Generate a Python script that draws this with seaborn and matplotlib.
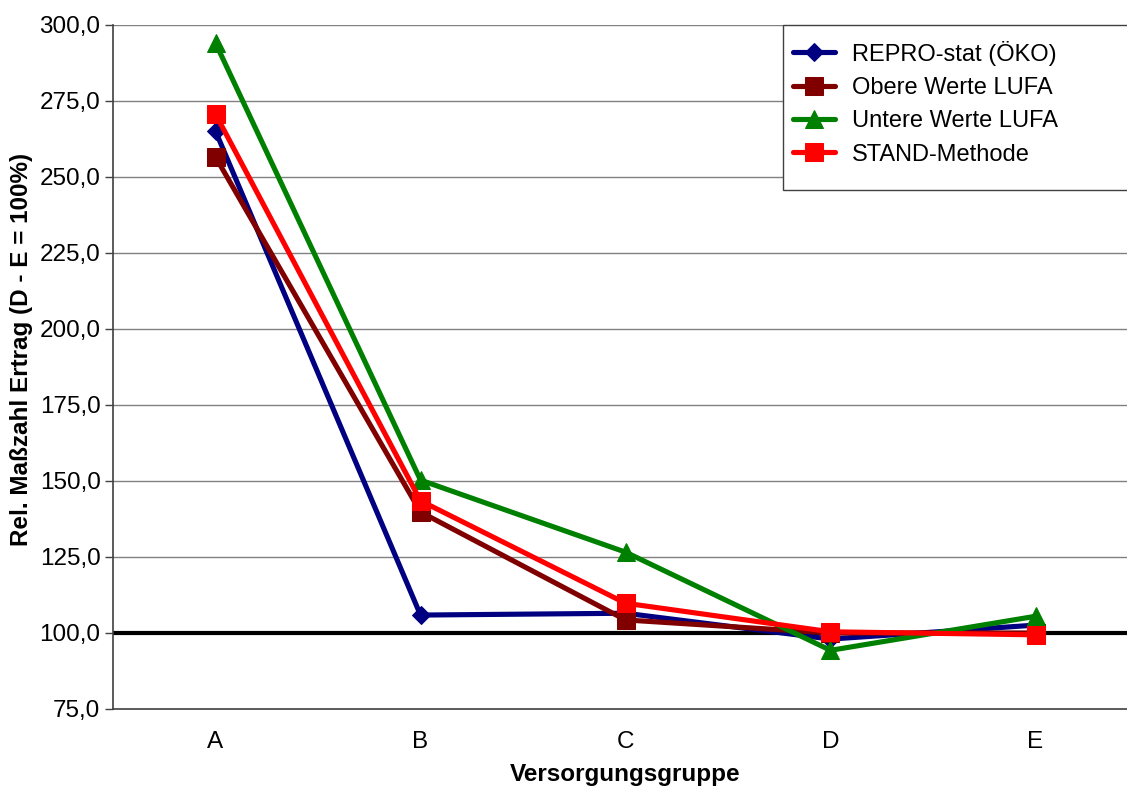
import numpy as np
import pandas as pd
import matplotlib.pyplot as plt
import seaborn as sns
from matplotlib.patches import Rectangle
from matplotlib.ticker import FixedLocator, FuncFormatter

groups = ["A", "B", "C", "D", "E"]
repro_stat = [265.1, 105.9, 106.5, 98.0, 102.6]
obere_lufa = [256.6, 139.8, 104.3, 100.0, 100.0]
untere_lufa = [294.1, 150.3, 126.6, 94.3, 105.5]
stand_methode = [270.7, 143.5, 109.8, 100.4, 99.4]

series_names = ["REPRO-stat (ÖKO)", "Obere Werte LUFA", "Untere Werte LUFA", "STAND-Methode"]
series_values = [repro_stat, obere_lufa, untere_lufa, stand_methode]

df = pd.concat(
    [pd.DataFrame({"Gruppe": groups, "Wert": vals, "Reihe": name})
     for name, vals in zip(series_names, series_values)],
    ignore_index=True,
)
df["x"] = df["Gruppe"].map({g: i for i, g in enumerate(groups)})

sns.set_theme(style="white")
plt.rcParams["font.family"] = ["Liberation Sans", "DejaVu Sans"]
plt.rcParams["text.color"] = "black"
plt.rcParams["axes.labelcolor"] = "black"

palette = {
    "REPRO-stat (ÖKO)": "#000080",
    "Obere Werte LUFA": "#800000",
    "Untere Werte LUFA": "#008000",
    "STAND-Methode": "#ff0000",
}
markers = {
    "REPRO-stat (ÖKO)": "D",
    "Obere Werte LUFA": "s",
    "Untere Werte LUFA": "^",
    "STAND-Methode": "s",
}
sizes = {
    "REPRO-stat (ÖKO)": 9,
    "Obere Werte LUFA": 12.5,
    "Untere Werte LUFA": 13,
    "STAND-Methode": 12.5,
}

fig = plt.figure(figsize=(11.27, 7.87), dpi=100)
ax = fig.add_axes([113 / 1127, 1 - 709 / 787, 1025 / 1127, 684 / 787])

# grid and 100 % reference line
for yv in np.arange(100, 301, 25):
    ax.axhline(yv, color="#808080", lw=1.0, zorder=0)
ax.axhline(100, color="black", lw=3.0, zorder=1)

for name in series_names:
    sub = df[df["Reihe"] == name]
    sns.lineplot(data=sub, x="x", y="Wert", ax=ax, color=palette[name], lw=3.7,
                 marker=markers[name], markersize=sizes[name],
                 markeredgecolor=palette[name], label=name, zorder=3)

ax.set_xlim(-0.5, 4.5)
ax.set_ylim(75, 300)
ax.yaxis.set_major_locator(FixedLocator(np.arange(75, 301, 25)))
ax.yaxis.set_major_formatter(FuncFormatter(lambda v, _: f"{v:.1f}".replace(".", ",")))
ax.set_xticks(range(len(groups)))
ax.set_xticklabels(groups)
ax.xaxis.set_minor_locator(FixedLocator(np.arange(-0.5, 4.6, 1.0)))
ax.tick_params(axis="x", which="major", length=0, labelsize=17.5, pad=16, labelcolor="black")
ax.tick_params(axis="x", which="minor", length=6, width=1, color="#404040", direction="out")
ax.tick_params(axis="y", length=6, width=1, color="#404040", direction="out",
               labelsize=17.5, pad=3, left=True, labelcolor="black")

for side in ["top", "right"]:
    ax.spines[side].set_visible(False)
ax.spines["left"].set_color("#404040")
ax.spines["left"].set_linewidth(1.2)
ax.spines["bottom"].set_color("#404040")
ax.spines["bottom"].set_linewidth(1.2)

ax.set_xlabel("Versorgungsgruppe", fontsize=17.5, fontweight="bold", labelpad=7)
ax.set_ylabel("Rel. Maßzahl Ertrag (D - E = 100%)", fontsize=17.5, fontweight="bold")
ax.yaxis.set_label_coords(-80 / 1025, 0.525)

# legend box runs past the right edge of the picture
ax.add_patch(Rectangle((783 / 1127, 1 - 190 / 787), 400 / 1127, 165 / 787,
                       transform=fig.transFigure, facecolor="white", clip_on=False,
                       edgecolor="#404040", lw=1.0, zorder=5))
leg = ax.legend(loc="upper left", bbox_to_anchor=(788 / 1127, 1 - 36 / 787),
                bbox_transform=fig.transFigure, frameon=False,
                fontsize=17, handlelength=1.8, borderpad=0.2,
                labelspacing=0.48, handletextpad=0.7, borderaxespad=0)
leg.set_zorder(6)

fig.savefig("out.png", dpi=100)
